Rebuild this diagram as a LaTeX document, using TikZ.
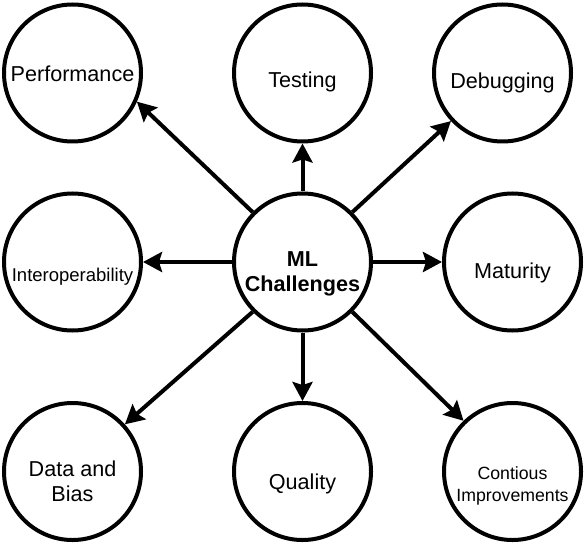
\documentclass[tikz,border=0pt]{standalone}
\usepackage{fontspec}
\setmainfont{Liberation Sans}
\usetikzlibrary{arrows.meta}

\begin{document}
\begin{tikzpicture}[x=1pt, y=-1pt,
        bubble/.style={
            circle,
            draw=black, line width=4pt,
            minimum size=137pt,
            inner sep=0pt},
        txt/.style={
            align=center,
            inner sep=0pt,
            font=\fontsize{21.6}{25}\selectfont},
        boldtxt/.style={
            txt,
            font=\fontsize{21.6}{25}\selectfont\bfseries},
        smalltxt/.style={
            txt,
            font=\fontsize{18.5}{21.7}\selectfont},
        tinytxt/.style={
            txt,
            font=\fontsize{17.7}{21.7}\selectfont},
        arrow/.style={
            line width=4pt,
            -{Stealth[length=19pt,width=20pt,inset=3pt]}}
        ]

        \useasboundingbox (0,0) rectangle (585,545);

        \node (ml) [bubble] at (302.5,262) {};
        \node (perf) [bubble] at (72.5,73) {};
        \node (test) [bubble] at (302.5,73) {};
        \node (debug) [bubble] at (502.5,73) {};
        \node (interop) [bubble] at (72.5,262) {};
        \node (mat) [bubble] at (512.5,262) {};
        \node (data) [bubble] at (72.5,471.5) {};
        \node (qual) [bubble] at (302.5,471.5) {};
        \node (cont) [bubble] at (512.5,471.5) {};

        \node (mltxt) [boldtxt] at ([yshift=-11.6pt]ml.center) {ML\\Challenges};
        \node (perftxt) [txt] at ([yshift=-1pt]perf.center) {Performance};
        \node (testtxt) [txt] at ([yshift=-9.2pt]test.center) {Testing};
        \node (debugtxt) [txt] at ([yshift=-10.1pt]debug.center) {Debugging};
        \node (interoptxt) [smalltxt] at ([yshift=-14.8pt]interop.center) {Interoperability};
        \node (mattxt) [txt] at ([yshift=-11.2pt]mat.center) {Maturity};
        \node (datatxt) [txt] at ([yshift=-9.5pt]data.center) {Data and\\Bias};
        \node (qualtxt) [txt] at ([yshift=-12.6pt]qual.center) {Quality};
        \node (conttxt) [tinytxt] at ([yshift=-14.2pt]cont.center) {Contious\\Improvements};

        \draw [arrow] (ml.135) -- (perf.-24);
        \draw [arrow] (ml.90) -- (test.-90);
        \draw [arrow] (ml.45) -- (debug.223);
        \draw [arrow] (ml.180) -- (interop.0);
        \draw [arrow] (ml.0) -- (mat.180);
        \draw [arrow] (ml.225) -- (data.42);
        \draw [arrow] (ml.-90) -- (qual.90);
        \draw [arrow] (ml.-45) -- (cont.134);

\end{tikzpicture}
\end{document}
